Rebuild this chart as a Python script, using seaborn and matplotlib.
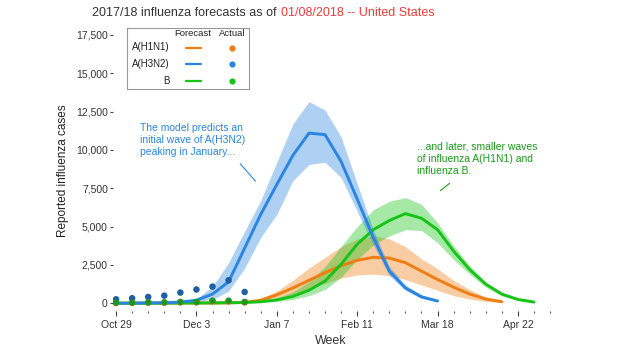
import numpy as np
import pandas as pd
import matplotlib
matplotlib.use('Agg')
import matplotlib.pyplot as plt
import seaborn as sns
from matplotlib.ticker import FuncFormatter, FixedLocator

sns.set_style('white')
plt.rcParams['font.family'] = ['Liberation Sans', 'DejaVu Sans']

# week 0 = Oct 29 2017
major_weeks = [0, 5, 10, 15, 20, 25]
major_labels = ['Oct 29', 'Dec 3', 'Jan 7', 'Feb 11', 'Mar 18', 'Apr 22']
y_ticks = [0, 2500, 5000, 7500, 10000, 12500, 15000, 17500]

# forecasts (median + interval)
h3n2_mid = [0, 10, 20, 40, 80, 200, 600, 1400, 3600, 5800, 7750, 9650, 11100, 11000, 9250, 6800, 4300, 2100, 1000, 420, 150]
h3n2_hi = [0, 15, 30, 60, 120, 300, 1100, 2650, 4700, 6700, 9200, 11700, 13150, 12600, 10850, 7800, 4800, 2400, 1200, 550, 220]
h3n2_lo = [0, 5, 10, 20, 40, 100, 250, 800, 2300, 4300, 5800, 8000, 9050, 9200, 8200, 6000, 3800, 1800, 850, 320, 100]

h1n1_mid = [0, 0, 10, 10, 20, 20, 30, 40, 60, 200, 550, 1000, 1500, 2000, 2450, 2800, 3000, 2950, 2650, 2100, 1550, 1050, 600, 280, 100]
h1n1_hi = [0, 0, 10, 10, 20, 20, 30, 40, 80, 300, 800, 1500, 2300, 3000, 3700, 4200, 4400, 4200, 3700, 2900, 2250, 1500, 900, 400, 130]
h1n1_lo = [0, 0, 10, 10, 20, 20, 30, 40, 40, 100, 300, 600, 950, 1300, 1650, 1850, 1900, 1800, 1550, 1200, 850, 500, 280, 120, 50]

b_mid = [10, 10, 10, 10, 20, 20, 20, 30, 50, 100, 220, 450, 850, 1450, 2550, 3850, 4800, 5400, 5850, 5550, 4800, 3400, 2200, 1250, 600, 250, 80]
b_hi = [10, 10, 10, 10, 20, 20, 20, 30, 60, 150, 350, 750, 1400, 2400, 3700, 5000, 6100, 6650, 6900, 6450, 5250, 3750, 2450, 1350, 700, 300, 100]
b_lo = [10, 10, 10, 10, 20, 20, 20, 30, 40, 60, 120, 250, 500, 900, 1700, 2850, 3800, 4400, 4800, 4750, 3950, 2850, 1900, 1050, 480, 200, 60]

# observed counts so far
h3n2_obs = [260, 330, 410, 500, 700, 900, 1090, 1500, 740]
h1n1_obs = [20, 30, 40, 40, 60, 60, 120, 120, 60]
b_obs = [40, 40, 60, 60, 90, 90, 170, 170, 90]

colors = {'A(H1N1)': '#f07d0f', 'A(H3N2)': '#2a85e0', 'B': '#16c416'}
dot_colors = {'A(H1N1)': '#e87410', 'A(H3N2)': '#1d5ea6', 'B': '#1f961f'}

series = [
    ('A(H1N1)', h1n1_mid, h1n1_lo, h1n1_hi, h1n1_obs),
    ('B', b_mid, b_lo, b_hi, b_obs),
    ('A(H3N2)', h3n2_mid, h3n2_lo, h3n2_hi, h3n2_obs),
]

fig = plt.figure(figsize=(6.2, 3.5), dpi=100)
ax = fig.add_axes([113 / 620, 1 - 311 / 350, (562 - 113) / 620, (311 - 30) / 350])

for name, mid, lo, hi, obs in series:
    wk = np.arange(len(mid))
    ax.fill_between(wk, lo, hi, color=colors[name], alpha=0.38, lw=0)
    sns.lineplot(x=wk, y=mid, ax=ax, color=colors[name], lw=2.1)

for name, mid, lo, hi, obs in [series[0], series[2], series[1]]:
    sns.scatterplot(x=np.arange(len(obs)), y=obs, ax=ax, color=dot_colors[name],
                    s=22, edgecolor='none', zorder=5)

ax.set_xlim(-0.19, 27.74)
ax.set_ylim(-502, 17826)
ax.xaxis.set_major_locator(FixedLocator(major_weeks))
ax.set_xticklabels(major_labels)
ax.xaxis.set_minor_locator(FixedLocator(range(0, 28)))
ax.set_yticks(y_ticks)
ax.yaxis.set_major_formatter(FuncFormatter(lambda v, p: f'{int(v):,}'))
ax.tick_params(axis='both', which='major', labelsize=7.5, colors='#444444', labelcolor='#333333')
ax.tick_params(axis='x', which='major', direction='out', length=3.6, width=0.8, pad=3, bottom=True)
ax.tick_params(axis='x', which='minor', direction='out', length=1.5, width=0.8, colors='#555555', bottom=True)
ax.tick_params(axis='y', which='major', direction='out', length=2.2, width=0.8, pad=1.5, left=True)
sns.despine(ax=ax, left=True, bottom=True)
ax.set_xlabel('Week', fontsize=9, color='#333333')
ax.xaxis.set_label_coords(0.4855, -0.085)
ax.set_ylabel('Reported influenza cases', fontsize=8.5, color='#222222', labelpad=5)

# annotations
ax.annotate('The model predicts an\ninitial wave of A(H3N2)\npeaking in January...',
            xy=(8.79, 7828), xytext=(1.52, 11750), fontsize=7.5, color='#2a85e0',
            va='top', ha='left', linespacing=1.25)
ax.annotate('', xy=(8.79, 7828), xytext=(7.61, 9237),
            arrowprops=dict(arrowstyle='-', color='#2a85e0', lw=0.8))
ax.annotate('...and later, smaller waves\nof influenza A(H1N1) and\ninfluenza B.',
            xy=(20.0, 7241), xytext=(18.74, 10550), fontsize=7.5, color='#1a9a1a',
            va='top', ha='left', linespacing=1.25)
ax.annotate('', xy=(20.04, 7241), xytext=(20.88, 7932),
            arrowprops=dict(arrowstyle='-', color='#1a9a1a', lw=0.8))

# title in two colours
fig.text(277 / 620, 1 - 13 / 350, '2017/18 influenza forecasts as of', ha='right', va='center',
         fontsize=9, color='#333333')
fig.text(281 / 620, 1 - 13 / 350, '01/08/2018 -- United States', ha='left', va='center',
         fontsize=9, color='#f03a3a')

# legend box (pixel coordinates inside a small inset)
lg = fig.add_axes([127 / 620, 1 - 89 / 350, (249 - 127) / 620, (89 - 28) / 350])
lg.set_xlim(127, 249)
lg.set_ylim(89, 28)
lg.set_xticks([])
lg.set_yticks([])
for sp in lg.spines.values():
    sp.set_color('#999999')
    sp.set_linewidth(0.8)
lg.text(193, 33.5, 'Forecast', ha='center', va='center', fontsize=6.8, color='#222222')
lg.text(232, 33.5, 'Actual', ha='center', va='center', fontsize=6.8, color='#222222')
for i, name in enumerate(['A(H1N1)', 'A(H3N2)', 'B']):
    yy = 47.5 + i * 16.5
    lg.text(169.5, yy, name, ha='right', va='center', fontsize=7, color='#222222')
    lg.plot([186, 201], [yy, yy], color=colors[name], lw=1.6)
    lg.plot([231.5], [yy], 'o', color=colors[name], ms=4.5, mec='none')

fig.savefig('out.png', dpi=100)
